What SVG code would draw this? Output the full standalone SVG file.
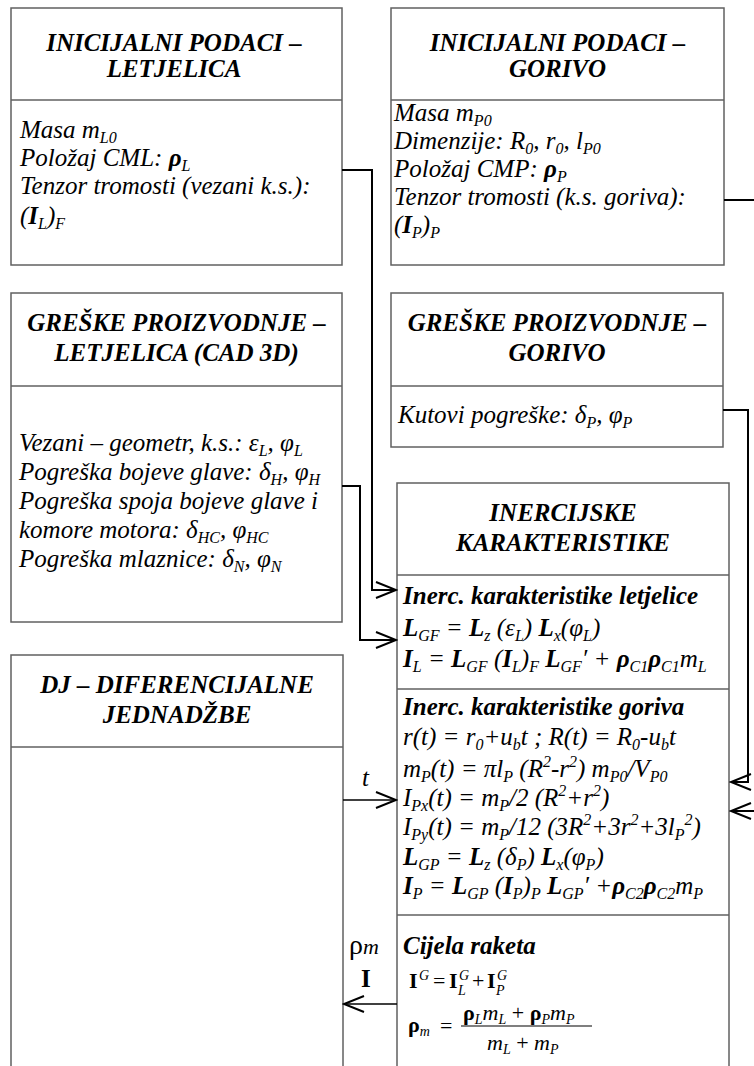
<svg xmlns="http://www.w3.org/2000/svg" width="754" height="1066" viewBox="0 0 754 1066">
<style>
.box{fill:#fff;stroke:#606060;stroke-width:1.5}
.div{stroke:#606060;stroke-width:1.5}
.tt{font-family:"Liberation Serif","Times New Roman",serif;font-style:italic;font-weight:bold;font-size:25px;text-anchor:middle;fill:#000}
.tx{font-family:"Liberation Serif","Times New Roman",serif;font-style:italic;font-size:25px;fill:#000}
.up{font-family:"Liberation Serif","Times New Roman",serif;font-size:25px;fill:#000}
.eq{font-family:"Liberation Serif","Times New Roman",serif;font-size:22px;fill:#000}
.b{font-weight:bold}
.sb{font-size:16px;font-weight:normal;baseline-shift:-5px}
.sp{font-size:16px;font-weight:normal;baseline-shift:10px}
.sm{font-family:"Liberation Serif","Times New Roman",serif;font-style:italic;font-size:14px;fill:#000}
.con{fill:none;stroke:#000;stroke-width:2}
.con2{fill:none;stroke:#000;stroke-width:1.5}
</style>
<defs>
<marker id="ah" viewBox="-22 -11 24 22" refX="0" refY="0" markerWidth="24" markerHeight="22" orient="auto" markerUnits="userSpaceOnUse">
<path d="M-20,-8 L0,0 L-20,8" fill="none" stroke="#000" stroke-width="2"/>
</marker>
</defs>

<g id="init-letjelica">
<rect class="box" x="11" y="8" width="331" height="257"/>
<line class="div" x1="11" y1="100" x2="342" y2="100"/>
<text class="tt" x="174" y="51">INICIJALNI PODACI –</text>
<text class="tt" x="174" y="77">LETJELICA</text>
<text class="tx" x="20" y="138">Masa m<tspan class="sb">L0</tspan></text>
<text class="tx" x="20" y="166">Položaj CML: <tspan class="b">ρ</tspan><tspan class="sb">L</tspan></text>
<text class="tx" x="20" y="194">Tenzor tromosti (vezani k.s.):</text>
<text class="tx" x="20" y="224">(<tspan class="b">I</tspan><tspan class="sb">L</tspan>)<tspan class="sb">F</tspan></text>
</g>

<g id="init-gorivo">
<rect class="box" x="391" y="8" width="333" height="257"/>
<line class="div" x1="391" y1="100" x2="724" y2="100"/>
<text class="tt" x="557.5" y="51">INICIJALNI PODACI –</text>
<text class="tt" x="557.5" y="77">GORIVO</text>
<text class="tx" x="394" y="121">Masa m<tspan class="sb">P0</tspan></text>
<text class="tx" x="394" y="149">Dimenzije: R<tspan class="sb">0</tspan>, r<tspan class="sb">0</tspan>, l<tspan class="sb">P0</tspan></text>
<text class="tx" x="394" y="177">Položaj CMP: <tspan class="b">ρ</tspan><tspan class="sb">P</tspan></text>
<text class="tx" x="394" y="205">Tenzor tromosti (k.s. goriva):</text>
<text class="tx" x="394" y="233">(<tspan class="b">I</tspan><tspan class="sb">P</tspan>)<tspan class="sb">P</tspan></text>
</g>

<g id="greske-letjelica">
<rect class="box" x="11" y="293" width="331" height="329"/>
<line class="div" x1="11" y1="386" x2="342" y2="386"/>
<text class="tt" x="176.5" y="331">GREŠKE PROIZVODNJE –</text>
<text class="tt" x="176.5" y="361">LETJELICA (CAD 3D)</text>
<text class="tx" x="19" y="451">Vezani – geometr, k.s.: ε<tspan class="sb">L</tspan>, φ<tspan class="sb">L</tspan></text>
<text class="tx" x="19" y="480">Pogreška bojeve glave: δ<tspan class="sb">H</tspan>, φ<tspan class="sb">H</tspan></text>
<text class="tx" x="19" y="509">Pogreška spoja bojeve glave i</text>
<text class="tx" x="19" y="538">komore motora: δ<tspan class="sb">HC</tspan>, φ<tspan class="sb">HC</tspan></text>
<text class="tx" x="19" y="567">Pogreška mlaznice: δ<tspan class="sb">N</tspan>, φ<tspan class="sb">N</tspan></text>
</g>

<g id="greske-gorivo">
<rect class="box" x="391" y="293" width="332" height="154"/>
<line class="div" x1="391" y1="386" x2="723" y2="386"/>
<text class="tt" x="557" y="331">GREŠKE PROIZVODNJE –</text>
<text class="tt" x="557" y="361">GORIVO</text>
<text class="tx" x="398" y="423">Kutovi pogreške: δ<tspan class="sb">P</tspan>, φ<tspan class="sb">P</tspan></text>
</g>

<g id="inercijske">
<rect class="box" x="397" y="483" width="332" height="600"/>
<line class="div" x1="397" y1="575" x2="729" y2="575"/>
<line class="div" x1="397" y1="689" x2="729" y2="689"/>
<line class="div" x1="397" y1="915" x2="729" y2="915"/>
<text class="tt" x="563" y="521">INERCIJSKE</text>
<text class="tt" x="563" y="551">KARAKTERISTIKE</text>
<text class="tx b" x="403" y="604">Inerc. karakteristike letjelice</text>
<text class="tx" x="403" y="636"><tspan class="b">L</tspan><tspan class="sb">GF</tspan> = <tspan class="b">L</tspan><tspan class="sb">z</tspan> (ε<tspan class="sb">L</tspan>) <tspan class="b">L</tspan><tspan class="sb">x</tspan>(φ<tspan class="sb">L</tspan>)</text>
<text class="tx" x="403" y="667"><tspan class="b">I</tspan><tspan class="sb">L</tspan> = <tspan class="b">L</tspan><tspan class="sb">GF</tspan> (<tspan class="b">I</tspan><tspan class="sb">L</tspan>)<tspan class="sb">F</tspan> <tspan class="b">L</tspan><tspan class="sb">GF</tspan>′ + <tspan class="b">ρ</tspan><tspan class="sb">C1</tspan><tspan class="b">ρ</tspan><tspan class="sb">C1</tspan>m<tspan class="sb">L</tspan></text>
<text class="tx b" x="403" y="715">Inerc. karakteristike goriva</text>
<text class="tx" x="403" y="745">r(t) = r<tspan class="sb">0</tspan>+u<tspan class="sb">b</tspan>t ; R(t) = R<tspan class="sb">0</tspan>-u<tspan class="sb">b</tspan>t</text>
<text class="tx" x="403" y="777">m<tspan class="sb">P</tspan>(t) = πl<tspan class="sb">P</tspan> (R<tspan class="sp">2</tspan>-r<tspan class="sp">2</tspan>) m<tspan class="sb">P0</tspan>/V<tspan class="sb">P0</tspan></text>
<text class="tx" x="403" y="806">I<tspan class="sb">Px</tspan>(t) = m<tspan class="sb">P</tspan>/2 (R<tspan class="sp">2</tspan>+r<tspan class="sp">2</tspan>)</text>
<text class="tx" x="403" y="835">I<tspan class="sb">Py</tspan>(t) = m<tspan class="sb">P</tspan>/12 (3R<tspan class="sp">2</tspan>+3r<tspan class="sp">2</tspan>+3l<tspan class="sb">P</tspan><tspan class="sp">2</tspan>)</text>
<text class="tx" x="403" y="865"><tspan class="b">L</tspan><tspan class="sb">GP</tspan> = <tspan class="b">L</tspan><tspan class="sb">z</tspan> (δ<tspan class="sb">P</tspan>) <tspan class="b">L</tspan><tspan class="sb">x</tspan>(φ<tspan class="sb">P</tspan>)</text>
<text class="tx" x="403" y="894"><tspan class="b">I</tspan><tspan class="sb">P</tspan> = <tspan class="b">L</tspan><tspan class="sb">GP</tspan> (<tspan class="b">I</tspan><tspan class="sb">P</tspan>)<tspan class="sb">P</tspan> <tspan class="b">L</tspan><tspan class="sb">GP</tspan>′ +<tspan class="b">ρ</tspan><tspan class="sb">C2</tspan><tspan class="b">ρ</tspan><tspan class="sb">C2</tspan>m<tspan class="sb">P</tspan></text>
<text class="tx b" x="403" y="954">Cijela raketa</text>
<text class="eq b" x="409" y="988">I</text>
<text class="sm" x="419" y="980">G</text>
<text class="eq" x="433" y="988">=</text>
<text class="eq b" x="449" y="988">I</text>
<text class="sm" x="459" y="980">G</text>
<text class="sm" x="458" y="995">L</text>
<text class="eq" x="472" y="988">+</text>
<text class="eq b" x="487" y="988">I</text>
<text class="sm" x="497" y="980">G</text>
<text class="sm" x="496" y="995">P</text>
<text class="eq" x="408" y="1032"><tspan class="b">ρ</tspan><tspan class="sm" dy="4">m</tspan></text>
<text class="eq" x="440" y="1033">=</text>
<text class="eq" x="463" y="1020"><tspan class="b">ρ</tspan><tspan class="sm" dy="4">L</tspan><tspan class="tx" style="font-size:22px" dy="-4">m</tspan><tspan class="sm" dy="4">L</tspan><tspan dy="-4"> + </tspan><tspan class="b">ρ</tspan><tspan class="sm" dy="4">P</tspan><tspan class="tx" style="font-size:22px" dy="-4">m</tspan><tspan class="sm" dy="4">P</tspan></text>
<line x1="461" y1="1026" x2="592" y2="1026" stroke="#000" stroke-width="1.2"/>
<text class="eq" x="487" y="1050"><tspan class="tx" style="font-size:22px">m</tspan><tspan class="sm" dy="4">L</tspan><tspan dy="-4"> + </tspan><tspan class="tx" style="font-size:22px">m</tspan><tspan class="sm" dy="4">P</tspan></text>
</g>

<g id="dj">
<rect class="box" x="11" y="655" width="332" height="430"/>
<line class="div" x1="11" y1="747" x2="343" y2="747"/>
<text class="tt" x="177" y="693">DJ – DIFERENCIJALNE</text>
<text class="tt" x="177" y="723">JEDNADŽBE</text>
</g>

<g id="connectors">
<polyline class="con" points="342,170 372,170 372,590 396,590" marker-end="url(#ah)"/>
<polyline class="con" points="342,486 360,486 360,640 396,640" marker-end="url(#ah)"/>
<polyline class="con" points="724,200 754,200"/>
<polyline class="con" points="723,410 748,410 748,782 731,782" marker-end="url(#ah)"/>
<polyline class="con" points="754,811 731,811" marker-end="url(#ah)"/>
<polyline class="con2" points="343,800 396,800" marker-end="url(#ah)"/>
<polyline class="con2" points="397,1004 344,1004" marker-end="url(#ah)"/>
<text class="tx" x="362" y="786">t</text>
<text class="up" x="349" y="954" style="font-size:28px">ρ<tspan class="tx" style="font-size:22px">m</tspan></text>
<text class="up b" x="361" y="987">I</text>
</g>
</svg>
